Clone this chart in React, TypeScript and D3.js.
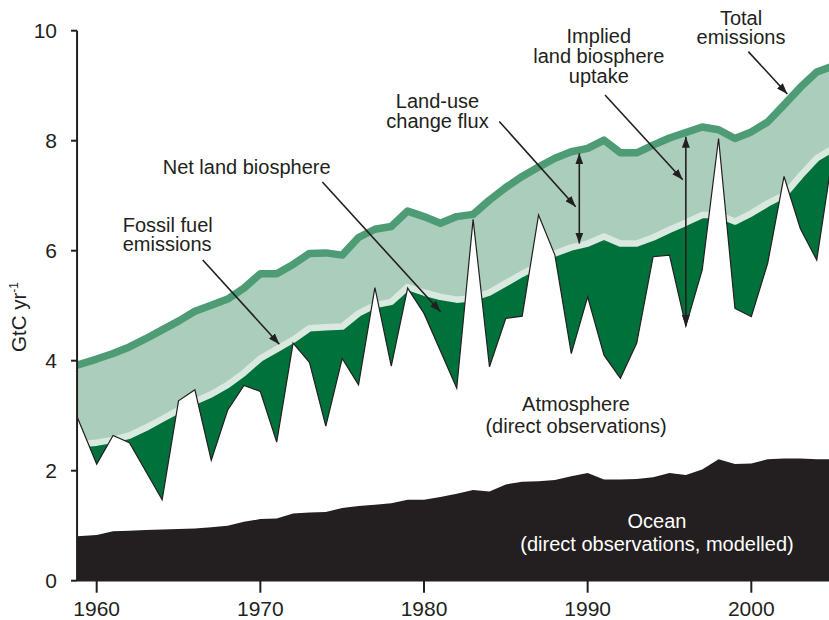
import React from "react";
import * as d3 from "d3";

// Annual carbon budget, GtC per year
const years = [
  1959, 1960, 1961, 1962, 1963, 1964, 1965, 1966, 1967, 1968,
  1969, 1970, 1971, 1972, 1973, 1974, 1975, 1976, 1977, 1978,
  1979, 1980, 1981, 1982, 1983, 1984, 1985, 1986, 1987, 1988,
  1989, 1990, 1991, 1992, 1993, 1994, 1995, 1996, 1997, 1998,
  1999, 2000, 2001, 2002, 2003, 2004, 2005,
];

// Fossil fuel + land-use change
const totalEmissions = [
  3.92, 4.03, 4.13, 4.25, 4.40, 4.56, 4.72, 4.90, 5.01, 5.12,
  5.32, 5.58, 5.58, 5.75, 5.95, 5.96, 5.92, 6.24, 6.39, 6.44,
  6.72, 6.62, 6.50, 6.62, 6.66, 6.92, 7.15, 7.35, 7.52, 7.68,
  7.80, 7.86, 8.01, 7.78, 7.78, 7.92, 8.05, 8.15, 8.25, 8.20,
  8.04, 8.16, 8.34, 8.65, 8.97, 9.25, 9.36,
];

const fossilFuel = [
  2.48, 2.51, 2.56, 2.64, 2.78, 2.94, 3.10, 3.26, 3.39, 3.56,
  3.78, 4.04, 4.21, 4.38, 4.59, 4.61, 4.62, 4.86, 5.01, 5.07,
  5.34, 5.24, 5.16, 5.11, 5.14, 5.24, 5.41, 5.58, 5.74, 5.95,
  6.06, 6.13, 6.26, 6.13, 6.13, 6.24, 6.38, 6.51, 6.65, 6.65,
  6.53, 6.68, 6.86, 7.01, 7.36, 7.68, 7.86,
];

// Ocean uptake plus atmospheric increase (stacked top)
const oceanPlusAtmosphere = [
  2.98, 2.12, 2.64, 2.51, 1.99, 1.47, 3.27, 3.47, 2.19, 3.10,
  3.55, 3.44, 2.52, 4.32, 3.97, 2.81, 4.04, 3.56, 5.33, 3.90,
  5.32, 4.86, 4.18, 3.50, 6.57, 3.89, 4.77, 4.81, 6.65, 5.92,
  4.13, 5.16, 4.10, 3.68, 4.32, 5.89, 5.92, 4.63, 5.65, 8.04,
  4.95, 4.80, 5.77, 7.35, 6.40, 5.83, 7.80,
];

const oceanUptake = [
  0.81, 0.83, 0.90, 0.91, 0.92, 0.93, 0.94, 0.95, 0.97, 1.00,
  1.07, 1.12, 1.13, 1.22, 1.24, 1.25, 1.32, 1.36, 1.38, 1.41,
  1.47, 1.47, 1.52, 1.58, 1.65, 1.62, 1.75, 1.80, 1.81, 1.83,
  1.90, 1.96, 1.84, 1.84, 1.85, 1.88, 1.96, 1.92, 2.02, 2.21,
  2.12, 2.13, 2.21, 2.22, 2.22, 2.21, 2.21,
];

const yTicks = [0, 2, 4, 6, 8, 10];
const xTicks = [1960, 1970, 1980, 1990, 2000];

// Annotation arrows in data units: [yearFrom, valueFrom, yearTo, valueTo, doubleHeaded]
const arrows: [number, number, number, number, boolean][] = [
  [1966.48, 5.83, 1971.16, 4.3, false],
  [1973.79, 7.25, 1981.01, 4.89, false],
  [1984.6, 8.35, 1989.27, 6.8, false],
  [1989.49, 7.77, 1989.49, 6.13, true],
  [1991.06, 8.83, 1995.81, 7.29, false],
  [1996.0, 8.07, 1996.0, 4.63, true],
  [1999.82, 9.62, 2002.2, 8.85, false],
];

const W = 829;
const H = 620;
const X_START = 1958.8;

const COLORS = {
  ink: "#231f20",
  landUse: "#abcdbb",
  totalLine: "#4e9c75",
  netLand: "#00713b",
  fossilLine: "#d9e9df",
  ocean: "#231f20",
};

const FONT = "'Liberation Sans', Arial, Helvetica, sans-serif";

export default function App() {
  const x = d3.scaleLinear().domain([1960, 2000]).range([96.7, 751.3]);
  const y = d3.scaleLinear().domain([0, 10]).range([580.7, 30.7]);
  const left = x(X_START);

  const px = (i: number) => (i === 0 ? x(X_START) : x(years[i]));

  const areaOf = (vals: number[]) =>
    d3
      .area<number>()
      .x((_, i) => px(i))
      .y0(y(0))
      .y1((d) => y(d))(vals) || "";

  const lineOf = (vals: number[]) =>
    d3
      .line<number>()
      .x((_, i) => px(i))
      .y((d) => y(d))(vals) || "";

  const textStyle = { fontFamily: FONT, fontSize: 20, fill: COLORS.ink } as const;

  return (
    <svg
      width={W}
      height={H}
      style={{ position: "absolute", left: 0, top: 0, background: "#fff" }}
    >
      <defs>
        <clipPath id="plot-clip">
          <rect x={left} y={0} width={W - left} height={y(0) + 1} />
        </clipPath>
        <marker
          id="arrow-head"
          viewBox="0 0 11 8"
          refX={11}
          refY={4}
          markerWidth={11}
          markerHeight={8}
          markerUnits="userSpaceOnUse"
          orient="auto-start-reverse"
        >
          <path d="M0,0 L11,4 L0,8 Z" fill={COLORS.ink} />
        </marker>
      </defs>

      <g clipPath="url(#plot-clip)">
        <path d={areaOf(totalEmissions)} fill={COLORS.landUse} />
        <path d={areaOf(fossilFuel)} fill={COLORS.netLand} />
        <path
          d={lineOf(fossilFuel)}
          fill="none"
          stroke={COLORS.fossilLine}
          strokeWidth={6.5}
          strokeLinejoin="round"
        />
        <path d={areaOf(oceanPlusAtmosphere)} fill="#fff" />
        <path
          d={lineOf(oceanPlusAtmosphere)}
          fill="none"
          stroke={COLORS.ink}
          strokeWidth={1.2}
          strokeLinejoin="miter"
        />
        <path d={areaOf(oceanUptake)} fill={COLORS.ocean} />
        <path
          d={lineOf(totalEmissions)}
          fill="none"
          stroke={COLORS.totalLine}
          strokeWidth={7.5}
          strokeLinejoin="round"
        />
      </g>

      {/* y axis */}
      <line x1={left} x2={left} y1={y(10)} y2={y(0)} stroke={COLORS.ink} strokeWidth={2} />
      {yTicks.map((t) => (
        <g key={t}>
          <line x1={left - 6} x2={left} y1={y(t)} y2={y(t)} stroke={COLORS.ink} strokeWidth={2} />
          <text
            x={57}
            y={y(t) + 7.5}
            textAnchor="end"
            style={{ ...textStyle, fontSize: 21 }}
          >
            {t}
          </text>
        </g>
      ))}
      <text
        transform={`translate(25.5, 317) rotate(-90)`}
        textAnchor="middle"
        style={{ ...textStyle, fontSize: 20.5 }}
      >
        GtC yr
        <tspan dy={-8} fontSize={12}>
          -1
        </tspan>
      </text>

      {/* x axis */}
      <line x1={left} x2={W} y1={y(0)} y2={y(0)} stroke={COLORS.ink} strokeWidth={1.5} />
      {xTicks.map((t) => (
        <g key={t}>
          <line x1={x(t)} x2={x(t)} y1={y(0)} y2={y(0) + 12} stroke={COLORS.ink} strokeWidth={2} />
          <text
            x={x(t)}
            y={616}
            textAnchor="middle"
            style={{ ...textStyle, fontSize: 21 }}
          >
            {t}
          </text>
        </g>
      ))}

      {/* annotation arrows */}
      {arrows.map(([x0, v0, x1, v1, both], i) => (
        <line
          key={i}
          x1={x(x0)}
          y1={y(v0)}
          x2={x(x1)}
          y2={y(v1)}
          stroke={COLORS.ink}
          strokeWidth={1.6}
          markerEnd="url(#arrow-head)"
          markerStart={both ? "url(#arrow-head)" : undefined}
        />
      ))}

      {/* labels */}
      <g style={textStyle}>
        <text x={122.7} y={231.5}>Fossil fuel</text>
        <text x={122.7} y={251}>emissions</text>
        <text x={162.7} y={174}>Net land biosphere</text>
        <text x={437.5} y={107.5} textAnchor="middle">Land-use</text>
        <text x={437.5} y={127.5} textAnchor="middle">change flux</text>
        <text x={598.8} y={43.3} textAnchor="middle">Implied</text>
        <text x={598.8} y={63.3} textAnchor="middle">land biosphere</text>
        <text x={598.8} y={82.7} textAnchor="middle">uptake</text>
        <text x={741} y={25} textAnchor="middle">Total</text>
        <text x={741} y={44.3} textAnchor="middle">emissions</text>
        <text x={576} y={411} textAnchor="middle">Atmosphere</text>
        <text x={576} y={433} textAnchor="middle">(direct observations)</text>
        <text x={657} y={528.3} textAnchor="middle" fill="#fff">Ocean</text>
        <text x={657} y={550.7} textAnchor="middle" fill="#fff">
          (direct observations, modelled)
        </text>
      </g>
    </svg>
  );
}
